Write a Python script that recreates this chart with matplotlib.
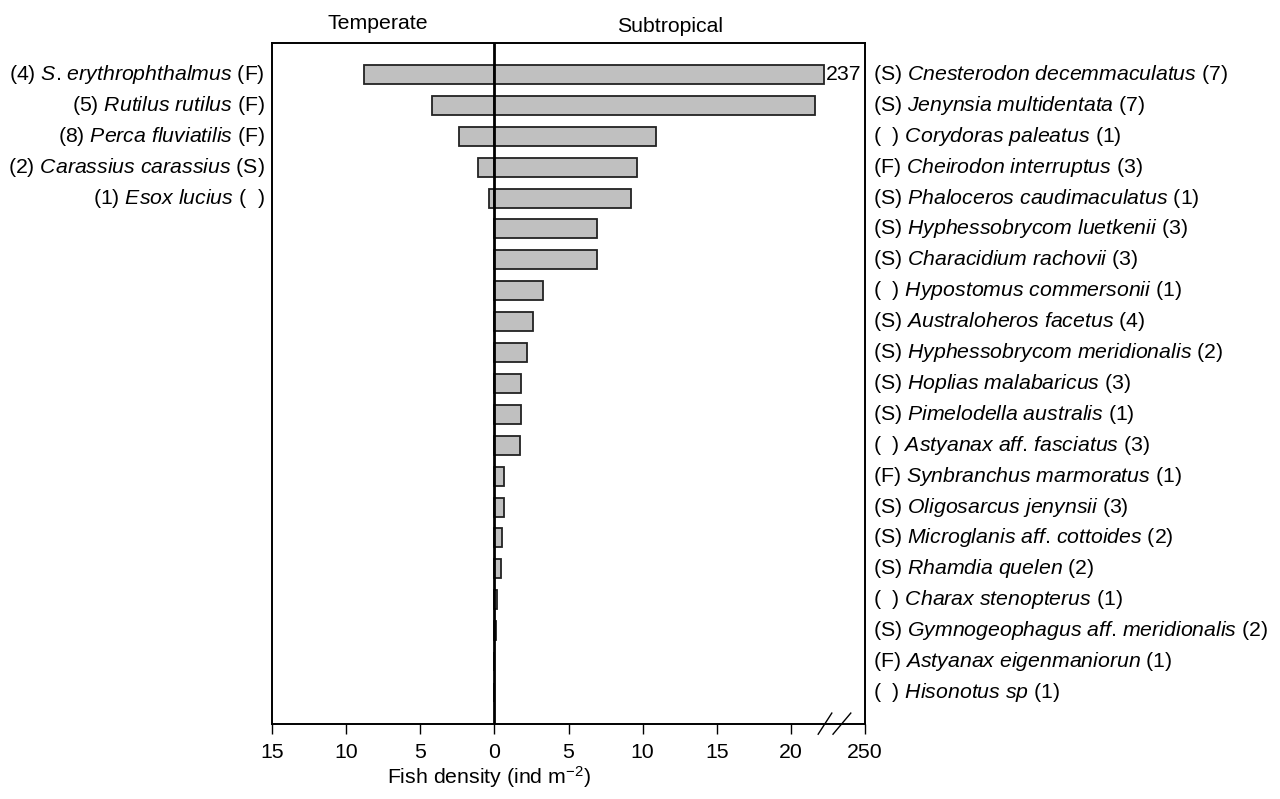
import numpy as np
import matplotlib.pyplot as plt
from matplotlib.transforms import blended_transform_factory

plt.rcParams['font.family'] = 'Liberation Sans'
plt.rcParams['mathtext.fontset'] = 'custom'
plt.rcParams['mathtext.rm'] = 'Liberation Sans'
plt.rcParams['mathtext.it'] = 'Liberation Sans:italic'

# temperate species (left side)
temp_pre = ['(4)', '(5)', '(8)', '(2)', '(1)']
temp_species = ['S. erythrophthalmus', 'Rutilus rutilus', 'Perca fluviatilis',
                'Carassius carassius', 'Esox lucius']
temp_post = ['(F)', '(F)', '(F)', '(S)', '(  )']
temp_density = [8.8, 4.2, 2.4, 1.1, 0.35]

# subtropical species (right side)
sub_pre = ['(S)', '(S)', '(  )', '(F)', '(S)', '(S)', '(S)', '(  )', '(S)', '(S)', '(S)',
           '(S)', '(  )', '(F)', '(S)', '(S)', '(S)', '(  )', '(S)', '(F)', '(  )']
sub_species = ['Cnesterodon decemmaculatus', 'Jenynsia multidentata', 'Corydoras paleatus',
               'Cheirodon interruptus', 'Phaloceros caudimaculatus', 'Hyphessobrycom luetkenii',
               'Characidium rachovii', 'Hypostomus commersonii', 'Australoheros facetus',
               'Hyphessobrycom meridionalis', 'Hoplias malabaricus', 'Pimelodella australis',
               'Astyanax aff. fasciatus', 'Synbranchus marmoratus', 'Oligosarcus jenynsii',
               'Microglanis aff. cottoides', 'Rhamdia quelen', 'Charax stenopterus',
               'Gymnogeophagus aff. meridionalis', 'Astyanax eigenmaniorun', 'Hisonotus sp']
sub_post = ['(7)', '(7)', '(1)', '(3)', '(1)', '(3)', '(3)', '(1)', '(4)', '(2)', '(3)',
            '(1)', '(3)', '(1)', '(3)', '(2)', '(2)', '(1)', '(2)', '(1)', '(1)']
sub_density = [237, 21.6, 10.9, 9.6, 9.2, 6.9, 6.9, 3.3, 2.6, 2.2, 1.8,
               1.8, 1.7, 0.67, 0.67, 0.5, 0.43, 0.19, 0.1, 0.0, 0.0]

xticks = [-15, -10, -5, 0, 5, 10, 15, 20, 250]
xticklabels = ['15', '10', '5', '0', '5', '10', '15', '20', '250']

# broken x axis: 22..236 squeezed to nothing, 236..250 stretched over the last 3 units
LO, HI = 22.0, 236.0
GAP = 0.02
SLOPE = (25.0 - LO - GAP) / (250.0 - HI)


def fwd(v):
    v = np.asarray(v, dtype=float)
    mid = LO + (v - LO) * GAP / (HI - LO)
    top = LO + GAP + (v - HI) * SLOPE
    return np.where(v <= LO, v, np.where(v >= HI, top, mid))


def inv(u):
    u = np.asarray(u, dtype=float)
    mid = LO + (u - LO) * (HI - LO) / GAP
    top = HI + (u - LO - GAP) / SLOPE
    return np.where(u <= LO, u, np.where(u >= LO + GAP, top, mid))


def label(pre, sp, post):
    # italic name; dots kept outside mathtext so no punctuation gap is added
    bits = ['$\\mathit{' + b.replace(' ', '\\ ') + '}$' for b in sp.split('.')]
    return pre + ' ' + '.'.join(bits) + ' ' + post


FS = 15.3

fig = plt.figure(figsize=(12.8, 7.99), dpi=100)
ax = fig.add_axes([0.2125, 0.0939, 0.4633, 0.8523])
ax.set_xscale('function', functions=(fwd, inv))

rows = np.arange(len(sub_species))
ax.barh(rows, sub_density, height=0.615, color='#c0c0c0', edgecolor='#222222', linewidth=1.3)
ax.barh(rows[:len(temp_density)], [-d for d in temp_density], height=0.615,
        color='#c0c0c0', edgecolor='#222222', linewidth=1.3)
ax.axvline(0, color='black', linewidth=2)

ax.set_xlim(-15, 250)
ax.set_ylim(len(rows) - 1 + 1.02, -1.02)
ax.set_xticks(xticks)
ax.set_xticklabels(xticklabels, fontsize=FS)
ax.set_yticks([])
ax.tick_params(axis='x', direction='out', length=7, width=1, pad=7)
for s in ax.spines.values():
    s.set_linewidth(1.4)

# value of the clipped bar, written just past its end
ax.text(float(inv(fwd(sub_density[0]) + 0.15)), 0, str(sub_density[0]),
        fontsize=FS, ha='left', va='center')

trans = blended_transform_factory(ax.transAxes, ax.transData)
for i in range(len(temp_species)):
    ax.text(-0.012, i, label(temp_pre[i], temp_species[i], temp_post[i]), transform=trans,
            ha='right', va='center', fontsize=FS)
for i in range(len(sub_species)):
    ax.text(1.013, i, label(sub_pre[i], sub_species[i], sub_post[i]), transform=trans,
            ha='left', va='center', fontsize=FS)

# break marks on the bottom spine
for x0, x1 in [(0.921, 0.944), (0.946, 0.976)]:
    ax.plot([x0, x1], [-0.015, 0.016], transform=ax.transAxes, color='black',
            linewidth=1, clip_on=False)

ax.text(0.179, 1.029, 'Temperate', transform=ax.transAxes, ha='center', va='center', fontsize=FS)
ax.text(0.671, 1.024, 'Subtropical', transform=ax.transAxes, ha='center', va='center', fontsize=FS)
fig.text(0.382, 0.028, 'Fish density (ind m$^{\\mathrm{-2}}$)', ha='center', va='center', fontsize=FS)

fig.savefig('out.png', dpi=100)
